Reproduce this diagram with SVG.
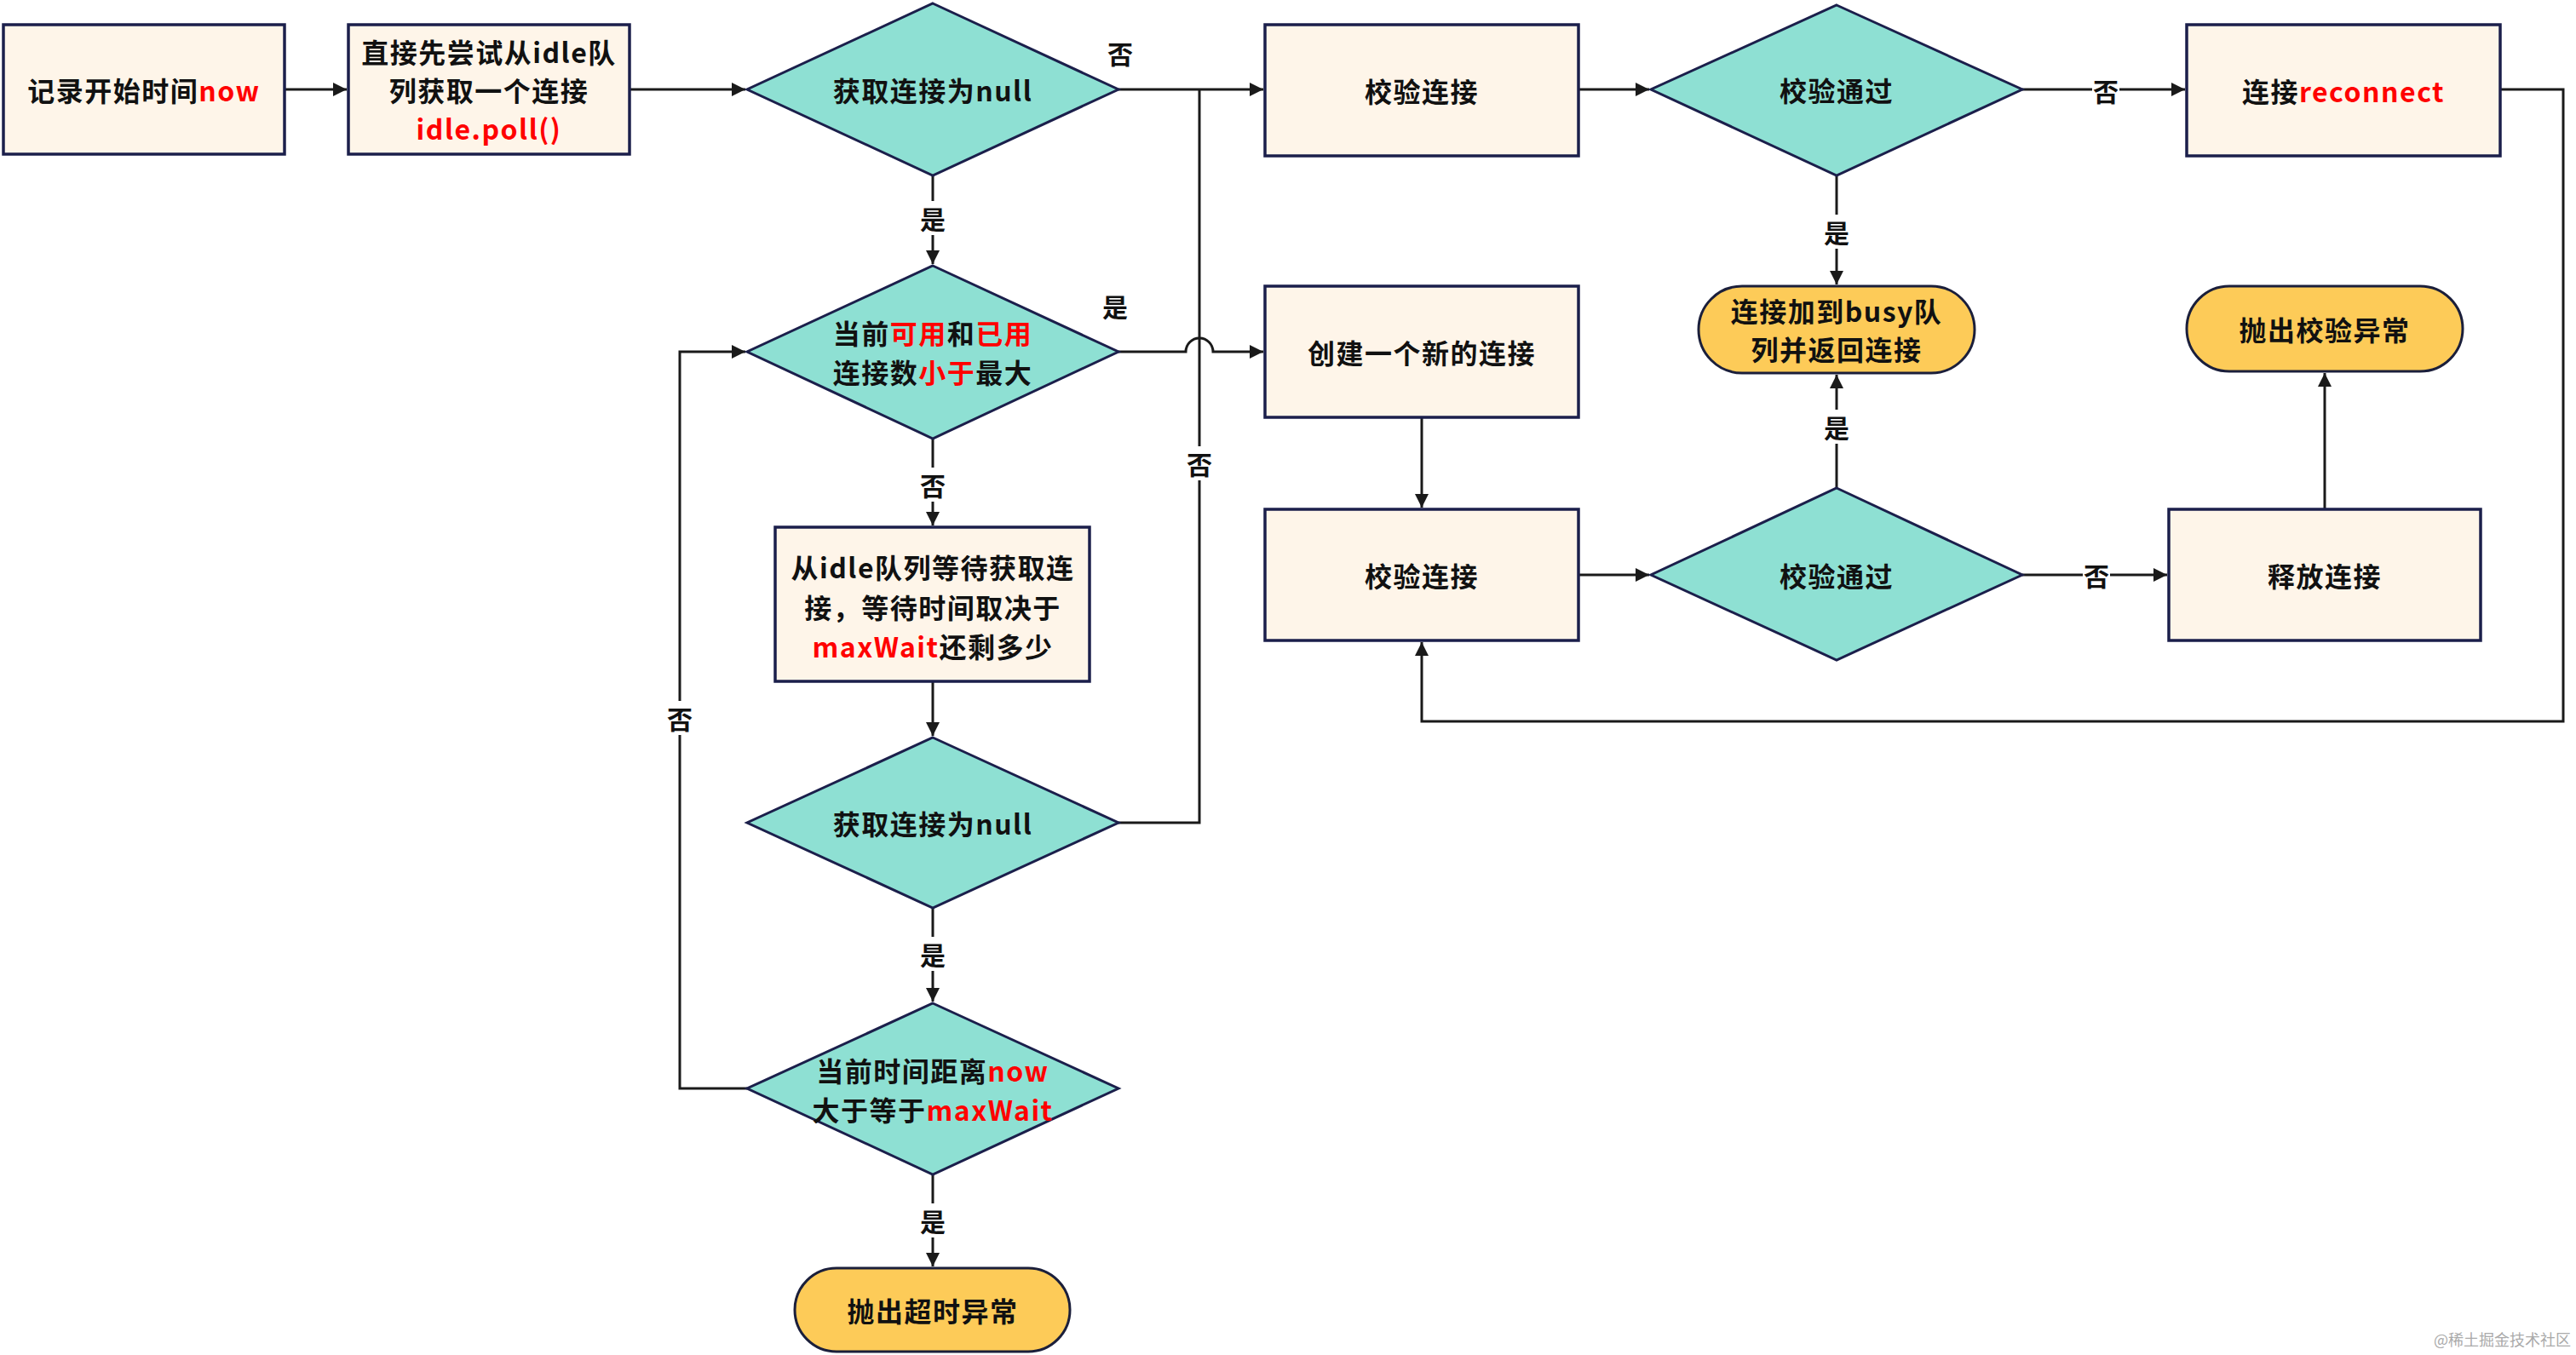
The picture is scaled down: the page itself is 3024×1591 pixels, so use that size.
<svg xmlns="http://www.w3.org/2000/svg" width="3024" height="1591" viewBox="0 0 3024 1591">
<style>
.box{fill:#FEF5E9;stroke:#1b1f4b;stroke-width:3.5}
.dia{fill:#8EE0D3;stroke:#1b1f4b;stroke-width:3}
.term{fill:#FDCB58;stroke:#1b1f3b;stroke-width:3}
.t{font-family:"Noto Sans CJK SC","Noto Sans",sans-serif;font-size:32px;font-weight:700;fill:#111;text-anchor:middle;dominant-baseline:central;letter-spacing:1.5px}
.r{fill:#f00}
.lbl{font-family:"Noto Sans CJK SC",sans-serif;font-size:30px;font-weight:700;fill:#111;text-anchor:middle;dominant-baseline:central}
.ln{fill:none;stroke:#1a1a1a;stroke-width:3}
.bg{fill:#fff}
.wm{font-family:"Noto Sans CJK SC",sans-serif;font-size:18px;fill:#aaa;text-anchor:end}
</style>
<defs>
<marker id="ah" markerUnits="userSpaceOnUse" markerWidth="18" markerHeight="18" refX="16" refY="8" orient="auto">
<path d="M0,0 L16,8 L0,16 z" fill="#1a1a1a"/>
</marker>
</defs>
<rect width="3024" height="1591" fill="#fff"/>

<g id="connectors">
<path class="ln" d="M334,105 H407" marker-end="url(#ah)"/>
<path class="ln" d="M739,105 H875" marker-end="url(#ah)"/>
<path class="ln" d="M1313,105 H1483" marker-end="url(#ah)"/>
<path class="ln" d="M1095,206 V310" marker-end="url(#ah)"/>
<path class="ln" d="M1313,413 H1392 A16,16 0 0 1 1424,413 H1483" marker-end="url(#ah)"/>
<path class="ln" d="M1095,515 V617" marker-end="url(#ah)"/>
<path class="ln" d="M1095,800 V864" marker-end="url(#ah)"/>
<path class="ln" d="M1313,966 H1408 V105"/>
<path class="ln" d="M1095,1066 V1176" marker-end="url(#ah)"/>
<path class="ln" d="M877,1278 H798 V413 H875" marker-end="url(#ah)"/>
<path class="ln" d="M1095,1379 V1487" marker-end="url(#ah)"/>
<path class="ln" d="M1853,105 H1936" marker-end="url(#ah)"/>
<path class="ln" d="M2374,105 H2565" marker-end="url(#ah)"/>
<path class="ln" d="M2156,206 V334" marker-end="url(#ah)"/>
<path class="ln" d="M2935,105 H3009 V847 H1669 V754" marker-end="url(#ah)"/>
<path class="ln" d="M1669,490 V596" marker-end="url(#ah)"/>
<path class="ln" d="M1853,675 H1936" marker-end="url(#ah)"/>
<path class="ln" d="M2156,573 V440" marker-end="url(#ah)"/>
<path class="ln" d="M2374,675 H2544" marker-end="url(#ah)"/>
<path class="ln" d="M2729,598 V438" marker-end="url(#ah)"/>

<text class="lbl" x="1315" y="62">否</text>
<rect class="bg" x="1079" y="236" width="32" height="40"/>
<text class="lbl" x="1095" y="256">是</text>
<text class="lbl" x="1309" y="359">是</text>
<rect class="bg" x="1079" y="549" width="32" height="40"/>
<text class="lbl" x="1095" y="569">否</text>
<rect class="bg" x="1392" y="524" width="32" height="40"/>
<text class="lbl" x="1408" y="544">否</text>
<rect class="bg" x="1079" y="1100" width="32" height="40"/>
<text class="lbl" x="1095" y="1120">是</text>
<rect class="bg" x="782" y="823" width="32" height="40"/>
<text class="lbl" x="798" y="843">否</text>
<rect class="bg" x="1079" y="1413" width="32" height="40"/>
<text class="lbl" x="1095" y="1433">是</text>
<rect class="bg" x="2456" y="86" width="32" height="40"/>
<text class="lbl" x="2472" y="106">否</text>
<rect class="bg" x="2140" y="252" width="32" height="40"/>
<text class="lbl" x="2156" y="272">是</text>
<rect class="bg" x="2140" y="481" width="32" height="40"/>
<text class="lbl" x="2156" y="501">是</text>
<rect class="bg" x="2445" y="655" width="32" height="40"/>
<text class="lbl" x="2461" y="675">否</text>
</g>

<g id="n-start">
<rect class="box" x="4" y="29" width="330" height="152"/>
<text class="t" x="169" y="105">记录开始时间<tspan class="r">now</tspan></text>
</g>
<g id="n-poll">
<rect class="box" x="409" y="29" width="330" height="152"/>
<text class="t" x="574" y="60">直接先尝试从idle队</text>
<text class="t" x="574" y="105">列获取一个连接</text>
<text class="t r" x="574" y="150">idle.poll()</text>
</g>
<g id="n-null1">
<polygon class="dia" points="1095,4 1313,105 1095,206 877,105"/>
<text class="t" x="1095" y="105">获取连接为null</text>
</g>
<g id="n-check1">
<rect class="box" x="1485" y="29" width="368" height="154"/>
<text class="t" x="1669" y="106">校验连接</text>
</g>
<g id="n-pass1">
<polygon class="dia" points="2156,6 2374,105 2156,206 1938,105"/>
<text class="t" x="2156" y="105">校验通过</text>
</g>
<g id="n-reconnect">
<rect class="box" x="2567" y="29" width="368" height="154"/>
<text class="t" x="2751" y="106">连接<tspan class="r">reconnect</tspan></text>
</g>
<g id="n-busy">
<rect class="term" x="1994" y="336" width="324" height="102" rx="51"/>
<text class="t" x="2156" y="364">连接加到busy队</text>
<text class="t" x="2156" y="409">列并返回连接</text>
</g>
<g id="n-verr">
<rect class="term" x="2567" y="336" width="324" height="100" rx="50"/>
<text class="t" x="2729" y="386">抛出校验异常</text>
</g>
<g id="n-cmp">
<polygon class="dia" points="1095,312 1313,413 1095,515 877,413"/>
<text class="t" x="1095" y="390">当前<tspan class="r">可用</tspan>和<tspan class="r">已用</tspan></text>
<text class="t" x="1095" y="436">连接数<tspan class="r">小于</tspan>最大</text>
</g>
<g id="n-create">
<rect class="box" x="1485" y="336" width="368" height="154"/>
<text class="t" x="1669" y="413">创建一个新的连接</text>
</g>
<g id="n-wait">
<rect class="box" x="910" y="619" width="369" height="181"/>
<text class="t" x="1095" y="665">从idle队列等待获取连</text>
<text class="t" x="1095" y="712">接，等待时间取决于</text>
<text class="t" x="1095" y="758"><tspan class="r">maxWait</tspan>还剩多少</text>
</g>
<g id="n-check2">
<rect class="box" x="1485" y="598" width="368" height="154"/>
<text class="t" x="1669" y="675">校验连接</text>
</g>
<g id="n-pass2">
<polygon class="dia" points="2156,573 2374,675 2156,775 1938,675"/>
<text class="t" x="2156" y="675">校验通过</text>
</g>
<g id="n-release">
<rect class="box" x="2546" y="598" width="366" height="154"/>
<text class="t" x="2729" y="675">释放连接</text>
</g>
<g id="n-null2">
<polygon class="dia" points="1095,866 1313,966 1095,1066 877,966"/>
<text class="t" x="1095" y="966">获取连接为null</text>
</g>
<g id="n-timeout">
<polygon class="dia" points="1095,1178 1313,1278 1095,1379 877,1278"/>
<text class="t" x="1095" y="1256">当前时间距离<tspan class="r">now</tspan></text>
<text class="t" x="1095" y="1302">大于等于<tspan class="r">maxWait</tspan></text>
</g>
<g id="n-terr">
<rect class="term" x="933" y="1489" width="323" height="98" rx="49"/>
<text class="t" x="1095" y="1538">抛出超时异常</text>
</g>
<text class="wm" x="3018" y="1580">@稀土掘金技术社区</text>
</svg>
